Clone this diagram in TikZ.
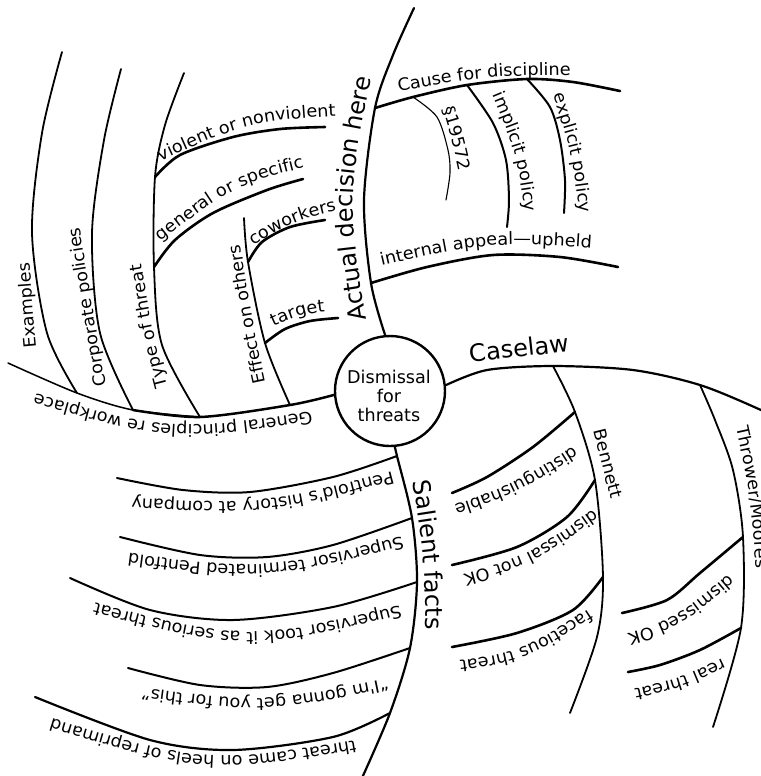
\documentclass[tikz,border=0pt]{standalone}
\usepackage{fontspec}
\setmainfont{DejaVu Sans}
\usetikzlibrary{decorations.text}
\newfontfamily\lblfam[FakeStretch=1.04]{DejaVu Sans}
\newfontfamily\bigfam{DejaVu Sans}
\newcommand\lbl{\lblfam\fontsize{4.25}{4.75}\selectfont}
\newcommand\biglbl{\bigfam\fontsize{6}{7}\selectfont}
\newcommand\hubfont{\bigfam\fontsize{4.4}{4.75}\selectfont}
\tikzset{
  br/.style={line width=0.45pt, line cap=round, line join=round},
  brk/.style={line width=0.65pt, line cap=round, line join=round},
  brt/.style={line width=0.28pt, line cap=round, line join=round},
  labtxt/.style={decorate, decoration={text along path, text={#1}, text align=center}},
}
\begin{document}
\begin{tikzpicture}[x=0.25pt,y=-0.25pt]
\useasboundingbox (0,0) rectangle (761,776);
\fill[white] (0,0) rectangle (761,776);

% hub
\node[circle, draw, line width=0.6pt, minimum size=27.5pt, inner sep=0pt] (hub) at (390,391) {};
\node[font=\hubfont, align=center, inner sep=0pt] (hubtxt) at (389,396) {Dismissal\\for\\threats};

% junction coordinates
\coordinate (gEnd) at (8,363);
\coordinate (jEx) at (77,393);
\coordinate (jCo) at (133,410);
\coordinate (jTy) at (200,417);
\coordinate (jEf) at (290,405);
\coordinate (jGe) at (154,267);
\coordinate (jVi) at (155,177);
\coordinate (jTa) at (265,343);
\coordinate (jCw) at (248,262);
\coordinate (jIn) at (371,283);
\coordinate (jCa) at (375,108);
\coordinate (jS) at (413,97);
\coordinate (jIm) at (467,85);
\coordinate (jEp) at (527,79);
\coordinate (jBe) at (553,366);
\coordinate (jTh) at (700,385);
\coordinate (jDi) at (575,412);
\coordinate (jDn) at (595,480);
\coordinate (jFa) at (603,577);
\coordinate (jDo) at (743,537);
\coordinate (jRe) at (741,628);
\coordinate (jP1) at (397,456);
\coordinate (jP2) at (412,518);
\coordinate (jP3) at (417,582);
\coordinate (jP4) at (410,648);
\coordinate (jP5) at (390,713);

% ---- General principles branch
\draw[line width=0.62pt, line cap=round] plot[smooth] coordinates {(hub.184) (jEf) (jTy) (jCo)};
\draw[line width=0.38pt, line cap=round] plot[smooth] coordinates {(jTy) (jCo) (jEx) (gEnd)};
\draw[br] plot[smooth] coordinates {(jEx) (47,333) (32,233) (42,133) (62,52)};
\draw[br] plot[smooth] coordinates {(jCo) (100,333) (92,233) (104,140) (121,69)};
\draw[br] plot[smooth] coordinates {(jTy) (162,345) (jGe) (jVi) (165,125) (184,73)};
\draw[br] plot[smooth] coordinates {(jEf) (jTa) (jCw) (244,218)};
\draw[brk] plot[smooth] coordinates {(jVi) (180,155) (233,137) (280,129) (325,127)};
\draw[brk] plot[smooth] coordinates {(jGe) (175,240) (213,213) (267,190) (303,179)};
\draw[brk] plot[smooth] coordinates {(jCw) (262,242) (290,227) (325,220)};
\draw[brk] plot[smooth] coordinates {(jTa) (285,329) (310,321) (338,318)};

% ---- Actual decision branch
\draw[line width=0.55pt, line cap=round] plot[smooth] coordinates {(hub.95) (jIn) (364,200) (jCa) (393,55) (414,8)};
\draw[brk] plot[smooth] coordinates {(jCa) (jS) (jIm) (jEp) (573,82) (620,91)};
\draw[brt] plot[smooth] coordinates {(jS) (437,117) (448,150) (450,173) (446,200)};
\draw[line width=0.5pt, line cap=round] plot[smooth] coordinates {(jIm) (493,123) (506,160) (509,200) (507,227)};
\draw[line width=0.5pt, line cap=round] plot[smooth] coordinates {(jEp) (550,107) (560,140) (565,180) (564,213)};
\draw[brk] plot[smooth] coordinates {(jIn) (427,267) (493,255) (560,257) (618,267)};

% ---- Caselaw branch
\draw[line width=0.55pt, line cap=round] plot[smooth] coordinates {(hub.6) (487,370) (jBe) (633,370) (jTh) (761,410) (790,425)};
\draw[br] plot[smooth] coordinates {(jBe) (jDi) (jDn) (jFa) (597,637) (570,713)};
\draw[brk] plot[smooth] coordinates {(jDi) (533,447) (487,477) (452,493)};
\draw[brk] plot[smooth] coordinates {(jDn) (567,517) (517,547) (452,565)};
\draw[brk] plot[smooth] coordinates {(jFa) (573,610) (517,633) (452,647)};
\draw[br] plot[smooth] coordinates {(jTh) (715,420) (733,470) (jDo) (jRe) (713,727)};
\draw[brk] plot[smooth] coordinates {(jDo) (700,573) (667,600) (622,613)};
\draw[brk] plot[smooth] coordinates {(jRe) (700,650) (660,665) (628,672)};

% ---- Salient facts branch
\draw[line width=0.55pt, line cap=round] plot[smooth] coordinates {(hub.275) (jP1) (jP2) (jP3) (jP4) (jP5) (362,778)};
\draw[line width=0.5pt, line cap=round] plot[smooth] coordinates {(jP1) (333,477) (250,492) (183,490) (117,478)};
\draw[line width=0.5pt, line cap=round] plot[smooth] coordinates {(jP2) (333,545) (267,557) (200,555) (120,537)};
\draw[line width=0.5pt, line cap=round] plot[smooth] coordinates {(jP3) (333,607) (233,620) (150,610) (70,578)};
\draw[line width=0.5pt, line cap=round] plot[smooth] coordinates {(jP4) (333,673) (267,687) (200,685) (128,668)};
\draw[line width=0.55pt, line cap=round] plot[smooth] coordinates {(jP5) (333,737) (233,750) (150,740) (35,697)};

% ---- labels (small)
{\lbl
\path[labtxt={General principles re workplace}] (358,404) .. controls (171.3,434.7) .. (-10,380);
\path[labtxt={Examples}] (39,372) .. controls (32.8,305) .. (28,238);
\path[labtxt={Corporate policies}] (110,408) .. controls (92,305) .. (76,204);
\path[labtxt={Type of threat}] (175,417) .. controls (150.7,325) .. (137,233);
\path[labtxt={Effect on others}] (272,412) .. controls (251.3,315.5) .. (236,215);
\path[labtxt={violent or nonviolent}] (143,169) .. controls (249,120.7) .. (355,115);
\path[labtxt={general or specific}] (141,257) .. controls (235,183.5) .. (329,162);
\path[labtxt={coworkers}] (236,256) .. controls (295.8,219.2) .. (357,206);
\path[labtxt={target}] (249,338) .. controls (299.8,313.5) .. (352,309);
\path[labtxt={Cause for discipline}] (370,97) .. controls (485,75.3) .. (600,75);
\path[labtxt={§19572}] (434,81) .. controls (452.5,140) .. (465,199);
\path[labtxt={implicit policy}] (483,72) .. controls (518.2,155.2) .. (528,237);
\path[labtxt={explicit policy}] (546,72) .. controls (573.3,155.2) .. (582,237);
\path[labtxt={internal appeal—upheld}] (351,273) .. controls (487,240.8) .. (623,250);
\path[labtxt={Bennett}] (587,403) .. controls (602.5,465) .. (618,527);
\path[labtxt={distinguishable}] (594,434) .. controls (511.9,486.2) .. (431,513);
\path[labtxt={dismissal not OK}] (610,498) .. controls (527,557.3) .. (444,579);
\path[labtxt={facetious threat}] (613,593) .. controls (520.9,654) .. (430,664);
\path[labtxt={Thrower/Moores}] (732,408) .. controls (751.8,498) .. (757,588);
\path[labtxt={dismissed OK}] (747,559) .. controls (674.9,620.9) .. (604,640);
\path[labtxt={real threat}] (747,647) .. controls (677,680.5) .. (607,694);
\path[labtxt={Pentfold's history at company}] (416,465) .. controls (260.8,506.5) .. (107,496);
\path[labtxt={Supervisor terminated Pentfold}] (427,530) .. controls (265,572) .. (103,550);
\path[labtxt={Supervisor took it as serious threat}] (429,598) .. controls (246.8,643.9) .. (66,595);
\path[labtxt={“I'm gonna get you for this”}] (414,673) .. controls (263.8,704.5) .. (115,684);
\path[labtxt={threat came on heels of reprimand}] (387,735) .. controls (204,766) .. (21,709);
}
% ---- labels (large)
{\biglbl
\path[labtxt={Actual decision here}] (371,347) .. controls (346,199) .. (377,51);
\path[labtxt={Caselaw}] (446,366) .. controls (520,356.5) .. (594,349);
\path[labtxt={Salient facts}] (407,450) .. controls (425.2,554.7) .. (426,662);
}
\end{tikzpicture}
\end{document}
